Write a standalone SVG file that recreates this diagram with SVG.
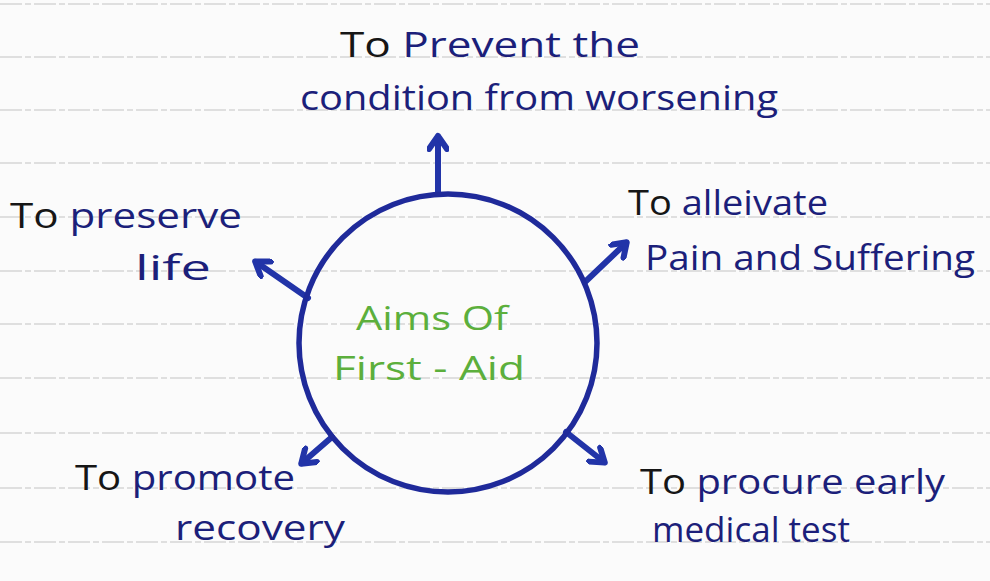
<svg xmlns="http://www.w3.org/2000/svg" width="990" height="581" viewBox="0 0 990 581">
<defs>
<marker id="head" viewBox="0 0 22 22" refX="15" refY="11" markerWidth="22" markerHeight="22" markerUnits="userSpaceOnUse" orient="auto">
<path d="M3,2 L16,11 L3,20" fill="none" stroke="#2234a8" stroke-width="6" stroke-linecap="round" stroke-linejoin="round"/>
</marker>
<style>
.rule{stroke:#d6d6d6;stroke-width:1.3;stroke-dasharray:22 3 6 3}
.lbl{font-family:"Open Sans","Liberation Sans",sans-serif;font-size:34px;fill:#1c1f7a}
.to{fill:#161616}
.ctr{font-family:"Open Sans","Liberation Sans",sans-serif;font-size:32px;fill:#5caf3c}
.arrow{stroke:#2234a8;stroke-width:6;fill:none;stroke-linecap:round;marker-end:url(#head)}
</style>
</defs>
<rect width="990" height="581" fill="#fbfbfb"/>
<g id="paper">
<line class="rule" x1="0" y1="4" x2="990" y2="4"/>
<line class="rule" x1="0" y1="57" x2="990" y2="57"/>
<line class="rule" x1="0" y1="110" x2="990" y2="110"/>
<line class="rule" x1="0" y1="163" x2="990" y2="163"/>
<line class="rule" x1="0" y1="217" x2="990" y2="217"/>
<line class="rule" x1="0" y1="271" x2="990" y2="271"/>
<line class="rule" x1="0" y1="324" x2="990" y2="324"/>
<line class="rule" x1="0" y1="378" x2="990" y2="378"/>
<line class="rule" x1="0" y1="433" x2="990" y2="433"/>
<line class="rule" x1="0" y1="488" x2="990" y2="488"/>
<line class="rule" x1="0" y1="542" x2="990" y2="542"/>
</g>
<g id="connectors">
<line class="arrow" x1="438" y1="194" x2="438" y2="137"/>
<line class="arrow" x1="585" y1="282" x2="626" y2="243"/>
<line class="arrow" x1="308" y1="298" x2="256" y2="262"/>
<line class="arrow" x1="332" y1="437" x2="302" y2="463"/>
<line class="arrow" x1="566" y1="432" x2="604" y2="462"/>
</g>
<g id="center">
<circle cx="448" cy="343" r="149" fill="none" stroke="#1f2a9a" stroke-width="5.5"/>
<text class="ctr" x="356" y="330" textLength="152" lengthAdjust="spacingAndGlyphs">Aims Of</text>
<text class="ctr" x="333" y="380" textLength="192" lengthAdjust="spacingAndGlyphs">First - Aid</text>
</g>
<g id="prevent">
<text class="lbl" x="340" y="57" textLength="300" lengthAdjust="spacingAndGlyphs"><tspan class="to">To</tspan> Prevent the</text>
<text class="lbl" x="300" y="110" textLength="478" lengthAdjust="spacingAndGlyphs">condition from worsening</text>
</g>
<g id="preserve">
<text class="lbl" x="10" y="228" textLength="232" lengthAdjust="spacingAndGlyphs"><tspan class="to">To</tspan> preserve</text>
<text class="lbl" x="135" y="280" textLength="76" lengthAdjust="spacingAndGlyphs">life</text>
</g>
<g id="alleviate">
<text class="lbl" x="628" y="215" textLength="200" lengthAdjust="spacingAndGlyphs"><tspan class="to">To</tspan> alleivate</text>
<text class="lbl" x="645" y="270" textLength="330" lengthAdjust="spacingAndGlyphs">Pain and Suffering</text>
</g>
<g id="promote">
<text class="lbl" x="75" y="490" textLength="220" lengthAdjust="spacingAndGlyphs"><tspan class="to">To</tspan> promote</text>
<text class="lbl" x="175" y="540" textLength="170" lengthAdjust="spacingAndGlyphs">recovery</text>
</g>
<g id="procure">
<text class="lbl" x="640" y="494" textLength="305" lengthAdjust="spacingAndGlyphs"><tspan class="to">To</tspan> procure early</text>
<text class="lbl" x="652" y="542" textLength="198" lengthAdjust="spacingAndGlyphs">medical test</text>
</g>
</svg>
